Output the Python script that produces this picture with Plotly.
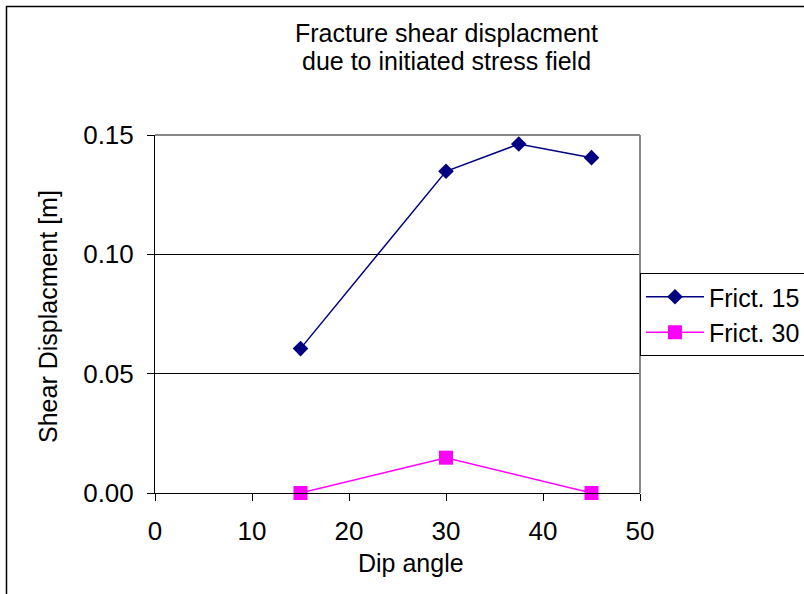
import plotly.graph_objects as go

dip_f15 = [15, 30, 37.5, 45]
disp_f15 = [0.0605, 0.1348, 0.1462, 0.1405]
dip_f30 = [15, 30, 45]
disp_f30 = [0.0, 0.0148, 0.0]
x_ticks = [0, 10, 20, 30, 40, 50]
y_ticks = [0.0, 0.05, 0.10, 0.15]
y_tick_labels = ["0.00", "0.05", "0.10", "0.15"]

FONT = "Liberation Sans, Arial, sans-serif"
FS = 25
TFS = 26
W, H = 804, 594
L, R, T, B = 155, 640, 135, 493

fig = go.Figure()
fig.add_trace(go.Scatter(
    x=dip_f15, y=disp_f15, mode="lines+markers", name="Frict. 15",
    line=dict(color="#000080", width=1.5),
    marker=dict(symbol="diamond", size=12, color="#000080"),
    cliponaxis=False,
))
fig.add_trace(go.Scatter(
    x=dip_f30, y=disp_f30, mode="lines+markers", name="Frict. 30",
    line=dict(color="#FF00FF", width=1.5),
    marker=dict(symbol="square", size=14, color="#FF00FF"),
    cliponaxis=False,
))

def px_to_paper_x(px):
    return (px - L) / (R - L)

def px_to_paper_y(py):
    return (B - py) / (B - T)

def ann(text, x, y, angle=0):
    return dict(text=text, xref="paper", yref="paper",
                x=px_to_paper_x(x), y=px_to_paper_y(y), textangle=angle,
                xanchor="center", yanchor="middle", showarrow=False,
                font=dict(family=FONT, size=FS))

fig.update_layout(
    width=W, height=H,
    margin=dict(l=L, r=W - R, t=T, b=H - B, pad=0, autoexpand=False),
    paper_bgcolor="white", plot_bgcolor="white",
    font=dict(family=FONT, size=FS, color="black"),
    showlegend=True,
    legend=dict(
        x=px_to_paper_x(640), y=px_to_paper_y(273), xanchor="left", yanchor="top",
        xref="paper", yref="paper",
        bordercolor="black", borderwidth=1, bgcolor="white",
        font=dict(family=FONT, size=FS, color="black"),
        itemwidth=58,
    ),
    xaxis=dict(
        range=[0, 50], tickvals=x_ticks, ticks="outside", ticklen=7,
        tickcolor="black", showline=True, linecolor="black", linewidth=1,
        showgrid=False, zeroline=False, mirror=False,
        tickfont=dict(family=FONT, size=TFS), fixedrange=True,
        ticklabelstandoff=8,
    ),
    yaxis=dict(
        range=[0, 0.15], tickvals=y_ticks, ticktext=y_tick_labels,
        ticks="outside", ticklen=7, tickcolor="black",
        showline=True, linecolor="black", linewidth=1,
        showgrid=True, gridcolor="black", gridwidth=1, zeroline=False,
        tickfont=dict(family=FONT, size=TFS), fixedrange=True,
        ticklabelstandoff=8,
    ),
    annotations=[
        ann("Fracture shear displacment", 446, 33),
        ann("due to initiated stress field", 446, 61),
        ann("Dip angle", 411, 563),
        ann("Shear Displacment [m]", 48, 317, -90),
    ],
    shapes=[
        dict(type="line", xref="paper", yref="paper", x0=0, x1=1, y0=1, y1=1,
             line=dict(color="#888888", width=2)),
        dict(type="line", xref="paper", yref="paper", x0=1, x1=1, y0=0, y1=1,
             line=dict(color="#888888", width=2)),
        dict(type="rect", xref="paper", yref="paper",
             x0=px_to_paper_x(6.5), x1=px_to_paper_x(900),
             y0=px_to_paper_y(700), y1=px_to_paper_y(6.5),
             line=dict(color="black", width=1.5), layer="below"),
    ],
)

fig.write_html("out.html")
